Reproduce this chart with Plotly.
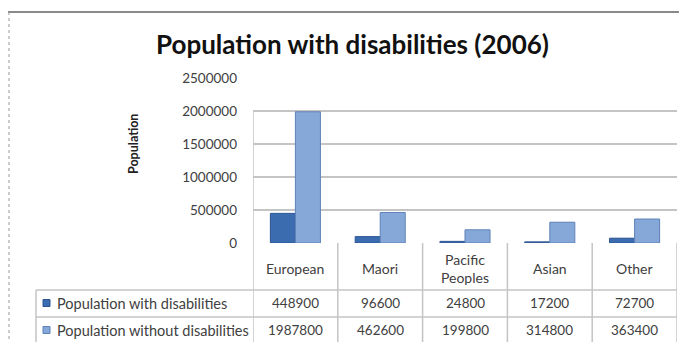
import plotly.graph_objects as go

categories = ["European", "Maori", "Pacific Peoples", "Asian", "Other"]
cat_labels = ["European", "Maori", "Pacific<br>Peoples", "Asian", "Other"]
with_dis = [448900, 96600, 24800, 17200, 72700]
without_dis = [1987800, 462600, 199800, 314800, 363400]
series_names = ["Population with disabilities", "Population without disabilities"]
y_ticks = [0, 500000, 1000000, 1500000, 2000000, 2500000]

# page body has an 8px margin: work in target-window pixels and shift
O = 8
W, H = 687 - O, 342 - O
L, R, T, B = 253 - O, 10, 78 - O, 99
PW = W - L - R
PH = H - T - B

def px(x):
    return (x - O - L) / PW

def py(y):
    return (H - B - (y - O)) / PH

c_dark = "#3b6cb0"
c_light = "#86a8d8"
font = "Lato"
txt = "#404040"
grid = "#c4c4c4"

fig = go.Figure()
fig.add_trace(go.Bar(x=categories, y=with_dis, name=series_names[0],
                     marker=dict(color=c_dark, line=dict(color="#2b5592", width=1))))
fig.add_trace(go.Bar(x=categories, y=without_dis, name=series_names[1],
                     marker=dict(color=c_light, line=dict(color="#5d82b8", width=1))))

shapes = []
ann = []

# outer frame
shapes.append(dict(type="line", xref="paper", yref="paper", x0=px(8), x1=px(700), y0=py(12), y1=py(12),
                   line=dict(color="#8a8a8a", width=2)))
shapes.append(dict(type="line", xref="paper", yref="paper", x0=px(9), x1=px(9), y0=py(12), y1=py(350),
                   line=dict(color="#9a9a9a", width=1, dash="dot")))

# y axis line (from 2,000,000 down through header)
shapes.append(dict(type="line", xref="x", yref="paper", x0=-0.5, x1=-0.5, y0=py(112), y1=py(350),
                   line=dict(color=grid, width=1.5)))
# column dividers in the data table
for k in range(1, len(categories) + 1):
    shapes.append(dict(type="line", xref="x", yref="paper", x0=k - 0.5, x1=k - 0.5, y0=py(243), y1=py(350),
                       line=dict(color=grid, width=1.5)))
# table row lines
for yy in (290, 317):
    shapes.append(dict(type="line", xref="paper", yref="paper", x0=px(36), x1=1, y0=py(yy), y1=py(yy),
                       line=dict(color=grid, width=1.5)))
shapes.append(dict(type="line", xref="paper", yref="paper", x0=px(36), x1=px(36), y0=py(290), y1=py(350),
                   line=dict(color=grid, width=1.5)))

# legend keys in table
for i, (col, yy) in enumerate(((c_dark, 303), (c_light, 330))):
    shapes.append(dict(type="rect", xref="paper", yref="paper", x0=px(43), x1=px(50), y0=py(yy + 3.5), y1=py(yy - 3.5),
                       fillcolor=col, line=dict(color="#2b5592" if i == 0 else "#5d82b8", width=1)))
    ann.append(dict(xref="paper", yref="paper", x=px(55), y=py(yy), text=series_names[i], showarrow=False,
                    xanchor="left", yanchor="middle", font=dict(family=font, size=14.5, color=txt)))

# category header labels
for c, lab in zip(categories, cat_labels):
    ann.append(dict(xref="x", yref="paper", x=c, y=py(268), text=lab, showarrow=False,
                    xanchor="center", yanchor="middle", font=dict(family=font, size=14, color=txt)))

# values in table
for c, v1, v2 in zip(categories, with_dis, without_dis):
    ann.append(dict(xref="x", yref="paper", x=c, y=py(303), text=str(v1), showarrow=False,
                    xanchor="center", yanchor="middle", font=dict(family=font, size=13.5, color=txt)))
    ann.append(dict(xref="x", yref="paper", x=c, y=py(330), text=str(v2), showarrow=False,
                    xanchor="center", yanchor="middle", font=dict(family=font, size=13.5, color=txt)))

# title
ann.append(dict(xref="paper", yref="paper", x=px(352), y=py(44), text="<b>Population with disabilities (2006)</b>",
                showarrow=False, xanchor="center", yanchor="middle", font=dict(family=font, size=26, color="#111111")))
# y-axis title
ann.append(dict(xref="paper", yref="paper", x=px(133), y=py(144), text="<b>Population</b>", textangle=-90,
                showarrow=False, xanchor="center", yanchor="middle", font=dict(family=font, size=12.5, color="#222222")))

fig.update_layout(
    width=W, height=H,
    margin=dict(l=L, r=R, t=T, b=B, autoexpand=False),
    paper_bgcolor="white", plot_bgcolor="white",
    barmode="group", bargap=0.41, bargroupgap=0,
    showlegend=False,
    shapes=shapes, annotations=ann,
    xaxis=dict(range=[-0.5, 4.5], showticklabels=False, showgrid=False, zeroline=False, showline=False,
               fixedrange=True),
    yaxis=dict(range=[0, 2500000], tickvals=y_ticks, ticktext=[str(v) for v in y_ticks],
               showgrid=True, gridcolor=grid, gridwidth=1.5, zeroline=False, showline=False,
               ticklabelstandoff=15, tickfont=dict(family=font, size=13.5, color=txt)),
)

fig.write_html("out.html")
